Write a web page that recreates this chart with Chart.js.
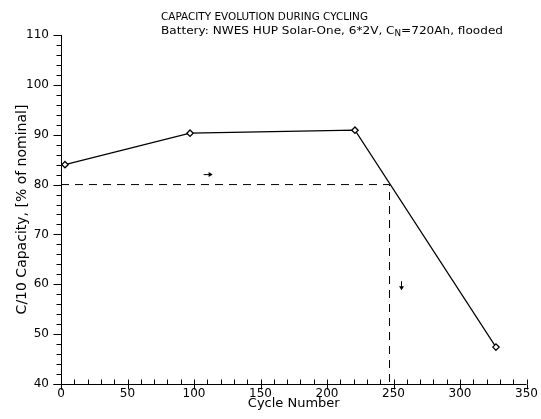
<!DOCTYPE html>
<html><head><meta charset="utf-8">
<script src="https://cdn.jsdelivr.net/npm/chart.js@4/dist/chart.umd.min.js"></script>
<style>html,body{margin:0;padding:0;background:#fff}#wrap{width:541px;height:419px;position:relative}</style>
</head><body><div id="wrap"><canvas id="c" width="541" height="419"></canvas></div>
<script>
const cycles = [3, 97, 221, 327];
const capacity = [84.0, 90.3, 90.9, 47.4];
const thresholdCycles = [0, 247, 247];
const thresholdCapacity = [80, 80, 40];
const arrowCycles = [111, 256];
const arrowCapacity = [82, 59.6];
const arrowDirections = ['right', 'down'];
const xMin = 0, xMax = 350, xMajor = 50, xMinor = 10;
const yMin = 40, yMax = 110, yMajor = 10, yMinor = 2;
const titleLine1 = 'CAPACITY EVOLUTION DURING CYCLING';
const titleLine2a = 'Battery: NWES HUP Solar-One, 6*2V, C';
const titleLine2sub = 'N';
const titleLine2b = '=720Ah, flooded';
const xTitle = 'Cycle Number';
const yTitle = 'C/10 Capacity, [% of nominal]';

const FONT = "'DejaVu Sans', sans-serif";

const decor = {
  id: 'decor',
  afterDraw(chart) {
    const ctx = chart.ctx, xs = chart.scales.x, ys = chart.scales.y;
    const a = chart.chartArea;
    const L = Math.round(a.left) + 0.5, B = Math.round(a.bottom) + 0.5;
    ctx.save();
    ctx.strokeStyle = '#000'; ctx.lineWidth = 1;
    ctx.beginPath();
    for (let v = yMin; v <= yMax + 1e-9; v += yMinor) {
      const y = Math.round(ys.getPixelForValue(v)) + 0.5;
      const major = Math.abs(v / yMajor - Math.round(v / yMajor)) < 1e-6;
      ctx.moveTo(L, y); ctx.lineTo(L - (major ? 8 : 5), y);
    }
    for (let v = xMin; v <= xMax + 1e-9; v += xMinor) {
      const x = Math.round(xs.getPixelForValue(v)) + 0.5;
      const major = Math.abs(v / xMajor - Math.round(v / xMajor)) < 1e-6;
      ctx.moveTo(x, B); ctx.lineTo(x, B - 5);
      if (major) { ctx.moveTo(x, B); ctx.lineTo(x, B + 5); }
    }
    ctx.moveTo(L, a.top); ctx.lineTo(L, B + 5);
    ctx.moveTo(L - 8, B); ctx.lineTo(a.right, B);
    ctx.stroke();

    ctx.fillStyle = '#000';
    arrowCycles.forEach((cx, i) => {
      const px = xs.getPixelForValue(cx), py = ys.getPixelForValue(arrowCapacity[i]);
      ctx.beginPath();
      if (arrowDirections[i] === 'right') {
        ctx.moveTo(px - 5, py); ctx.lineTo(px + 1, py); ctx.stroke();
        ctx.beginPath(); ctx.moveTo(px + 4, py); ctx.lineTo(px, py - 2.5); ctx.lineTo(px, py + 2.5); ctx.closePath(); ctx.fill();
      } else {
        ctx.moveTo(px, py - 5); ctx.lineTo(px, py + 1); ctx.stroke();
        ctx.beginPath(); ctx.moveTo(px, py + 4); ctx.lineTo(px - 2.5, py); ctx.lineTo(px + 2.5, py); ctx.closePath(); ctx.fill();
      }
    });

    ctx.fillStyle = '#000';
    ctx.textBaseline = 'alphabetic'; ctx.textAlign = 'left';
    ctx.font = '11px ' + FONT;
    const w1 = ctx.measureText(titleLine1).width;
    ctx.save(); ctx.translate(161, 20); ctx.scale(207 / w1, 1); ctx.fillText(titleLine1, 0, 0); ctx.restore();
    ctx.font = '11px ' + FONT;
    const wa = ctx.measureText(titleLine2a).width, wb = ctx.measureText(titleLine2b).width;
    ctx.font = '8px ' + FONT;
    const ws = ctx.measureText(titleLine2sub).width;
    const s2 = 342 / (wa + ws + wb);
    ctx.save(); ctx.translate(161, 34); ctx.scale(s2, 1);
    ctx.font = '11px ' + FONT; ctx.fillText(titleLine2a, 0, 0);
    ctx.font = '8px ' + FONT; ctx.fillText(titleLine2sub, wa, 2);
    ctx.font = '11px ' + FONT; ctx.fillText(titleLine2b, wa + ws, 0);
    ctx.restore();
    ctx.restore();
  }
};

new Chart(document.getElementById('c'), {
  type: 'scatter',
  data: {
    datasets: [
      {
        data: cycles.map((c, i) => ({ x: c, y: capacity[i] })),
        showLine: true, borderColor: '#000', borderWidth: 1.2,
        pointStyle: 'rectRot', pointRadius: 3.2, pointBorderWidth: 1.3,
        pointBackgroundColor: '#fff', pointBorderColor: '#000', tension: 0
      },
      {
        data: thresholdCycles.map((c, i) => ({ x: c, y: thresholdCapacity[i] })),
        showLine: true, borderColor: '#000', borderWidth: 1, borderDash: [8, 6],
        pointRadius: 0, tension: 0
      }
    ]
  },
  options: {
    responsive: false, animation: false, devicePixelRatio: 1,
    layout: { padding: { top: 35, right: 13, left: 0, bottom: 0 } },
    plugins: { legend: { display: false }, tooltip: { enabled: false }, title: { display: false } },
    scales: {
      x: {
        type: 'linear', min: xMin, max: xMax,
        afterFit: s => { s.height = 35; },
        grid: { display: false, drawOnChartArea: false, drawTicks: false },
        border: { display: false },
        ticks: { stepSize: xMajor, color: '#000', padding: 3, font: { family: FONT, size: 12 }, maxRotation: 0 },
        title: { display: true, text: xTitle, color: '#000', font: { family: FONT, size: 13 }, padding: { top: 0, bottom: 8 } }
      },
      y: {
        type: 'linear', min: yMin, max: yMax,
        afterFit: s => { s.width = 61; },
        grid: { display: false, drawOnChartArea: false, drawTicks: false },
        border: { display: false },
        ticks: { stepSize: yMajor, color: '#000', padding: 12, font: { family: FONT, size: 12 } },
        title: { display: true, text: yTitle, color: '#000', font: { family: FONT, size: 14 }, padding: { top: 14, bottom: 0 } }
      }
    }
  },
  plugins: [decor]
});
</script></body></html>
